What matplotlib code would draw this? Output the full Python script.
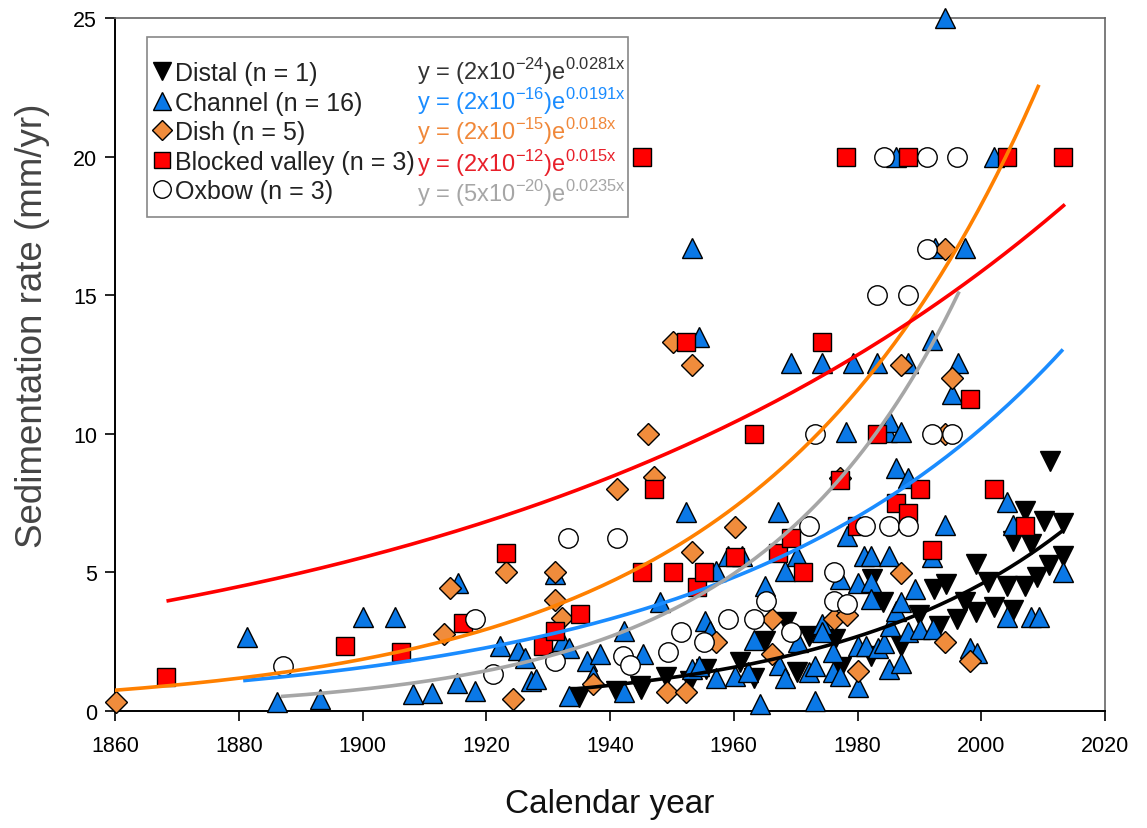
import numpy as np
import matplotlib
matplotlib.use("Agg")
import matplotlib.pyplot as plt
from matplotlib.lines import Line2D
from matplotlib.patches import Rectangle

plt.rcParams['font.family'] = ['Liberation Sans', 'DejaVu Sans']
plt.rcParams['mathtext.fontset'] = 'custom'
plt.rcParams['mathtext.rm'] = 'Liberation Sans'

# --- data ---
distal_x = [1935, 1941, 1945, 1949, 1953, 1955.5, 1961, 1963.3, 1965, 1968.5, 1970.2, 1972.1,
            1976.4, 1977.3, 1982.2, 1982.3, 1984.1, 1987.1, 1990, 1992.3, 1993.2, 1994.3, 1996.1,
            1997.4, 1999.2, 1999.2, 2001.1, 2002.1, 2004.1, 2005.1, 2005.1, 2007.1, 2007.1, 2008.1,
            2009.0, 2010.1, 2011.0, 2011.1, 2013.2, 2013.2, 1944.8]
distal_y = [0.5, 0.73, 0.79, 1.21, 1.09, 1.51, 1.78, 1.18, 2.54, 3.2, 1.39, 2.69,
            2.6, 1.6, 2.0, 4.76, 3.93, 2.36, 3.47, 4.4, 3.08, 4.6, 3.32,
            3.94, 3.57, 5.32, 4.64, 3.74, 4.5, 3.65, 6.14, 4.52, 7.22, 6.02,
            4.82, 6.87, 5.27, 9.03, 6.78, 5.6, 0.91]

channel_x = [1881.3, 1886.2, 1893.2, 1900.1, 1905.3, 1908.2, 1911.2, 1915.4, 1915.2, 1918.2,
             1922.2, 1925.2, 1926.3, 1927.3, 1928.0, 1931.1, 1932.2, 1933.3, 1933.3, 1936.2,
             1937.2, 1938.3, 1942.2, 1942.2, 1945.3, 1948.1, 1952.2, 1953.2, 1953.2, 1954.3,
             1954.3, 1955.3, 1956.2, 1957.2, 1957.2, 1959.0, 1960.2, 1961.4, 1962.3, 1963.2,
             1964.2, 1965.1, 1967.2, 1967.3, 1968.2, 1968.3, 1969.2, 1970.2, 1970.3, 1972.2,
             1973.1, 1973.1, 1974.2, 1974.2, 1974.2, 1976.1, 1976.1, 1977.2, 1977.1, 1978.1,
             1978.3, 1979.2, 1980.1, 1980.1, 1980.1, 1981.1, 1981.3, 1982.2, 1982.2, 1982.2,
             1983.2, 1983.3, 1984.3, 1984.7, 1985.1, 1985.3, 1985.3, 1985.1, 1986.2, 1986.2,
             1986.2, 1987.1, 1987.1, 1987.1, 1988.2, 1988.2, 1988.2, 1989.3, 1990.1, 1992.1,
             1992.1, 1992.2, 1992.5, 1994.1, 1994.1, 1995.2, 1996.2, 1997.3, 1998.2, 1999.3,
             2002.1, 2004.1, 2004.1, 2005.1, 2008.1, 2009.3, 2013.2]
channel_y = [2.66, 0.31, 0.43, 3.38, 3.38, 0.61, 0.64, 4.62, 1.01, 0.73,
             2.33, 2.21, 1.9, 1.09, 1.15, 4.95, 2.54, 2.26, 0.55, 1.8,
             1.25, 2.04, 2.9, 0.7, 2.06, 3.92, 7.17, 16.7, 1.51, 13.5,
             1.63, 3.26, 2.9, 5.06, 1.18, 5.6, 1.27, 5.6, 1.39, 2.58,
             0.25, 4.52, 7.19, 1.66, 1.18, 5.05, 12.55, 5.58, 2.48, 1.39,
             1.62, 0.37, 12.55, 3.14, 2.84, 2.12, 1.42, 4.75, 1.27, 10.05,
             6.33, 12.55, 4.62, 2.36, 0.85, 5.6, 2.36, 5.6, 4.64, 4.05,
             12.55, 2.28, 2.47, 10.06, 5.6, 10.42, 3.08, 1.5, 20.0, 8.77,
             3.62, 10.06, 3.93, 1.72, 12.57, 8.39, 2.86, 4.4, 2.95, 13.4,
             5.55, 2.95, 16.7, 25.0, 6.72, 11.44, 12.57, 16.7, 2.28, 2.08,
             20.0, 7.55, 3.38, 6.71, 3.38, 3.38, 5.03]

dish_x = [1860.2, 1913.2, 1914.1, 1923.2, 1924.3, 1931.1, 1931.1, 1932.2, 1937.2, 1941.2,
          1946.2, 1947.1, 1949.2, 1950.1, 1952.2, 1953.2, 1953.2, 1957.2, 1960.2, 1966.1,
          1966.1, 1976.2, 1977.2, 1978.3, 1980.1, 1987.1, 1987.1, 1994.1, 1994.1, 1994.1,
          1995.2, 1998.1]
dish_y = [0.31, 2.78, 4.43, 5.0, 0.43, 5.0, 4.02, 3.34, 0.97, 8.0,
          10.0, 8.43, 0.67, 13.3, 0.7, 12.5, 5.72, 2.48, 6.63, 3.32,
          2.04, 3.32, 8.4, 3.46, 1.45, 12.5, 4.98, 16.67, 10.0, 2.48,
          12.0, 1.81]

blocked_x = [1868.2, 1897.2, 1906.2, 1916.2, 1923.2, 1929.2, 1931.1, 1935.2, 1945.1, 1945.1,
             1947.1, 1950.1, 1952.2, 1954.1, 1955.2, 1960.2, 1963.2, 1967.2, 1969.2, 1971.2,
             1974.2, 1977.2, 1978.1, 1979.9, 1983.1, 1986.2, 1988.2, 1988.2, 1990.1, 1992.1,
             1998.2, 2002.1, 2004.1, 2007.1, 2013.2]
blocked_y = [1.21, 2.33, 2.14, 3.17, 5.7, 2.33, 2.9, 3.5, 20.0, 5.0,
             8.0, 5.0, 13.3, 4.46, 5.0, 5.54, 10.0, 5.7, 6.24, 5.0,
             13.3, 8.35, 20.0, 6.66, 10.0, 7.5, 7.14, 20.0, 8.0, 5.82,
             11.26, 8.0, 20.0, 6.66, 20.0]

oxbow_x = [1887.2, 1918.2, 1921.1, 1931.1, 1933.2, 1941.2, 1942.1, 1943.2, 1949.3, 1951.4,
           1955.2, 1959.1, 1963.2, 1965.2, 1969.2, 1972.2, 1973.1, 1976.2, 1976.2, 1978.3,
           1981.2, 1985.1, 1988.2, 1983.1, 1988.1, 1984.2, 1991.2, 1996.1, 1991.2, 1992.1,
           1995.2]
oxbow_y = [1.61, 3.32, 1.33, 1.81, 6.24, 6.24, 2.0, 1.66, 2.12, 2.86,
           2.5, 3.32, 3.32, 3.98, 2.86, 6.66, 10.0, 5.0, 3.98, 3.86,
           6.66, 6.66, 6.66, 15.0, 15.0, 20.0, 20.0, 20.0, 16.67, 10.0,
           10.0]

# exponential fits y = a * exp(b * x), drawn over the year range of each trend line
fit_a = [3.26e-23, 5.83e-16, 2.87e-19, 1.155e-8, 3.95e-26]
fit_b = [0.02665, 0.0187, 0.0228, 0.01052, 0.03066]
fit_start = [1934.1, 1881.0, 1860.0, 1868.6, 1887.1]
fit_end = [2013.0, 2013.0, 2009.2, 2013.3, 1996.3]

labels = ["Distal (n = 1)", "Channel (n = 16)", "Dish (n = 5)",
          "Blocked valley (n = 3)", "Oxbow (n = 3)"]
equations = [r"y = (2x10$^{\mathregular{-24}}$)e$^{\mathregular{0.0281x}}$",
             r"y = (2x10$^{\mathregular{-16}}$)e$^{\mathregular{0.0191x}}$",
             r"y = (2x10$^{\mathregular{-15}}$)e$^{\mathregular{0.018x}}$",
             r"y = (2x10$^{\mathregular{-12}}$)e$^{\mathregular{0.015x}}$",
             r"y = (5x10$^{\mathregular{-20}}$)e$^{\mathregular{0.0235x}}$"]
eq_colors = ["#333333", "#1a8cff", "#f0883a", "#e8202a", "#a6a6a6"]
line_colors = ["black", "#1a8cff", "#ff8000", "#ff0000", "#a6a6a6"]

fig = plt.figure(figsize=(11.47, 8.29), dpi=100)
ax = fig.add_axes([0.1003, 0.1411, 0.8631, 0.8359])

series = [
    (distal_x, distal_y, "v", "black", 14),
    (channel_x, channel_y, "^", "#0a78e6", 14.5),
    (dish_x, dish_y, "D", "#f08c3c", 11),
    (blocked_x, blocked_y, "s", "#ff0000", 13),
    (oxbow_x, oxbow_y, "o", "white", 14),
]
handles = []
for (xs, ys, mk, fc, ms) in series:
    ax.plot(xs, ys, ls="none", marker=mk, ms=ms, mfc=fc, mec="black", mew=1.0,
            clip_on=False, zorder=3)
    handles.append(Line2D([], [], ls="none", marker=mk, ms=ms * 0.9, mfc=fc,
                          mec="black", mew=1.0))

for a, b, x0, x1, c in zip(fit_a, fit_b, fit_start, fit_end, line_colors):
    xx = np.linspace(x0, x1, 200)
    ax.plot(xx, a * np.exp(b * xx), color=c, lw=2.6, zorder=4)

ax.set_xlim(1860, 2020)
ax.set_ylim(0, 25)
ax.set_xticks(np.arange(1860, 2021, 20))
ax.set_yticks(np.arange(0, 26, 5))
ax.tick_params(direction="out", length=7, width=1.2, labelsize=15.5, pad=6)
ax.tick_params(axis="x", pad=10)
for s in ["top", "right"]:
    ax.spines[s].set_color("#666666")
    ax.spines[s].set_linewidth(1.2)
for s in ["left", "bottom"]:
    ax.spines[s].set_linewidth(1.4)

ax.set_xlabel("Calendar year", fontsize=24, labelpad=23, color="#111111")
ax.set_ylabel("Sedimentation rate (mm/yr)", fontsize=26.5, color="#444444")
ax.yaxis.set_label_coords(-0.066, 0.557)

# legend box
ax.add_patch(Rectangle((0.0323, 0.7134), 0.486, 0.2592, transform=ax.transAxes,
                       facecolor="white", edgecolor="#888888", lw=1.2, zorder=5))
leg = ax.legend(handles, labels, loc="upper left", bbox_to_anchor=(0.039, 0.938),
                frameon=False, fontsize=18, handlelength=0.7, handletextpad=0.15,
                labelspacing=0.22, borderpad=0, borderaxespad=0)
leg.set_zorder(6)
for t in leg.get_texts():
    t.set_color("#222222")

eq_y = [0.9117, 0.8685, 0.8252, 0.779, 0.7357]
for eq, c, yy in zip(equations, eq_colors, eq_y):
    ax.text(0.305, yy, eq, transform=ax.transAxes, color=c, fontsize=17,
            va="baseline", ha="left", zorder=7)

fig.savefig("out.png", dpi=100)
